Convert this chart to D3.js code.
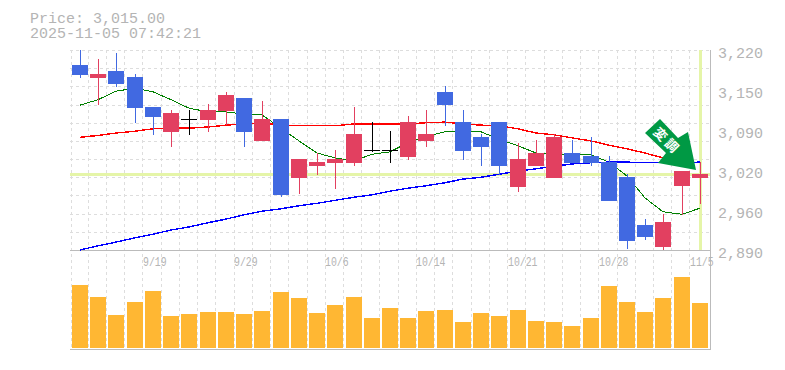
<!DOCTYPE html>
<html>
<head>
<meta charset="utf-8">
<script src="https://cdn.jsdelivr.net/npm/d3@7"></script>
<style>
    html, body { margin: 0; padding: 0; background: #fff; }
    svg { display: block; }
    text { font-family: "Liberation Mono", monospace; fill: #b4b4b4; }
</style>
</head>
<body>
<div id="chart"></div>
<script>
// daily candles, oldest first
const opens  = [3195,3174,3185,3175,3126,3085,3106,3105,3119,3141,3070,3106,3009,3029,3034,3034,3055,3055,3043,3070,3151,3101,3076,3101,2994,3029,3009,3050,3045,3035,3010,2931,2895,2996,3009];
const highs  = [3220,3205,3215,3180,3126,3121,3121,3131,3151,3141,3136,3106,3040,3050,3055,3126,3101,3086,3111,3121,3161,3121,3081,3101,3066,3071,3081,3071,3076,3045,3015,2941,2949,3020,3035];
const lows   = [3174,3129,3159,3100,3080,3060,3080,3085,3096,3060,3070,2977,2982,3014,2991,3029,3052,3034,3039,3060,3095,3039,3029,3014,2986,3029,3009,3034,3029,2971,2892,2906,2890,2948,2966];
const closes = [3179,3180,3164,3124,3109,3116,3106,3121,3146,3085,3106,2981,3040,3035,3040,3081,3055,3055,3101,3081,3129,3053,3060,3029,3040,3050,3076,3034,3034,2971,2905,2911,2936,3020,3015];
const volumes = [63,51,33,46,57,32,34,36,36,34,37,56,50,35,43,51,30,40,30,37,38,26,35,32,38,27,26,22,30,62,46,36,50,71,45];

// moving averages
const maShort = [3129,3138,3152,3157,3151,3138,3124,3118,3118,3114,3113,3091,3070,3050,3042,3037,3048,3052,3067,3077,3085,3085,3085,3073,3062,3050,3048,3048,3047,3035,3012,2976,2953,2949,2959];
const maMid   = [3076,3079,3083,3086,3090,3091,3091,3093,3096,3098,3100,3096,3095,3095,3095,3098,3098,3098,3098,3100,3101,3098,3096,3095,3090,3083,3080,3075,3070,3063,3057,3050,3042,3035,null];
const maLong  = [2890,2897,2903,2910,2916,2923,2928,2935,2941,2948,2954,2958,2963,2967,2972,2977,2981,2987,2992,2996,3001,3007,3010,3015,3020,3024,3028,3032,3034,3035,3035,3034,3034,3034,3035];

const dateLabels = ['9/19','9/29','10/6','10/14','10/21','10/28','11/5'];
const dateIndex = [4,9,14,19,24,29,34];
const priceTicks = [3220,3154,3088,3022,2956,2890];
const priceLabels = ['3,220','3,150','3,090','3,020','2,960','2,890'];

const lastPrice = 3015;
const titleLines = ['Price: 3,015.00','2025-11-05 07:42:21'];

const width = 785, height = 370;
const plotLeft = 70, plotRight = 710, plotTop = 50, priceBottom = 250, volBottom = 350;

const svg = d3.select('#chart').append('svg')
    .attr('width', width)
    .attr('height', height);

const x = d3.scaleBand()
    .domain(d3.range(opens.length))
    .range([71, 709.2]);

const y = d3.scaleLinear()
    .domain([2890, 3220])
    .range([priceBottom, plotTop]);

const yVol = d3.scaleLinear()
    .domain([0, 100])
    .range([348, 248]);

const cx = i => Math.round(x(i) + 9);

// grid
const grid = svg.append('g')
    .attr('stroke', '#ddd')
    .attr('stroke-dasharray', '3 3')
    .attr('shape-rendering', 'crispEdges');

grid.selectAll('.h')
    .data(d3.range(2890, 3221, 30))
    .join('line')
    .attr('class', 'h')
    .attr('x1', plotLeft).attr('x2', plotRight)
    .attr('y1', d => Math.round(y(d)) + 0.5)
    .attr('y2', d => Math.round(y(d)) + 0.5);

grid.selectAll('.v')
    .data(d3.range(opens.length))
    .join('line')
    .attr('class', 'v')
    .attr('x1', d => Math.floor(x(d)) + 0.5 - (d ? 1 : 0))
    .attr('x2', d => Math.floor(x(d)) + 0.5 - (d ? 1 : 0))
    .attr('y1', plotTop).attr('y2', volBottom);

// volume
svg.append('g').selectAll('rect')
    .data(volumes)
    .join('rect')
    .attr('x', (d, i) => Math.round(x(i) + 1))
    .attr('width', 16)
    .attr('y', d => Math.round(yVol(d)))
    .attr('height', d => Math.round(yVol(0) - yVol(d)))
    .attr('fill', '#ffb733');

// frame
const frame = svg.append('g').attr('stroke', '#bbb').attr('stroke-width', 1).attr('shape-rendering', 'crispEdges');
frame.append('line').attr('x1', plotLeft).attr('x2', plotRight).attr('y1', 250.5).attr('y2', 250.5);
frame.append('line').attr('x1', plotLeft).attr('x2', plotRight).attr('y1', 349.5).attr('y2', 349.5);
frame.append('line').attr('x1', 710.5).attr('x2', 710.5).attr('y1', plotTop).attr('y2', volBottom);

// last price cross
const mark = svg.append('g').attr('fill', '#e5f5a8');
mark.append('rect').attr('x', plotLeft).attr('width', plotRight - plotLeft).attr('y', Math.round(y(lastPrice)) - 1).attr('height', 3);
mark.append('rect').attr('x', cx(34) - 1).attr('width', 3).attr('y', plotTop).attr('height', 200);

// moving averages
const line = d3.line()
    .defined(d => d !== null)
    .x((d, i) => cx(i))
    .y(d => y(d));

[[maShort, '#008000', 1], [maMid, '#ff0000', 1.4], [maLong, '#0000ff', 1.4]].forEach(([vals, color, sw]) => {
    svg.append('path')
        .attr('d', line(vals))
        .attr('fill', 'none')
        .attr('stroke', color)
        .attr('stroke-width', sw)
        .attr('shape-rendering', 'crispEdges');
});

// candles
const candleColor = i => closes[i] > opens[i] ? '#e24060' : closes[i] < opens[i] ? '#4169e1' : '#000';
const candles = svg.append('g').selectAll('g')
    .data(opens)
    .join('g')
    .attr('fill', (d, i) => candleColor(i));

candles.append('rect')
    .attr('x', (d, i) => cx(i))
    .attr('width', 1)
    .attr('y', (d, i) => Math.round(y(highs[i])))
    .attr('height', (d, i) => Math.round(y(lows[i])) - Math.round(y(highs[i])));

candles.append('rect')
    .attr('x', (d, i) => Math.round(x(i) + 1))
    .attr('width', 16)
    .attr('y', (d, i) => Math.round(y(Math.max(opens[i], closes[i]))))
    .attr('height', (d, i) => Math.max(1, Math.round(y(Math.min(opens[i], closes[i]))) - Math.round(y(Math.max(opens[i], closes[i])))));

// axes
const yAxis = d3.axisRight(y)
    .tickValues(priceTicks)
    .tickFormat((d, i) => priceLabels[i])
    .tickSize(0);

const yG = svg.append('g').attr('transform', 'translate(718,3)').call(yAxis);
yG.select('.domain').remove();
yG.selectAll('text').attr('x', 0).attr('fill', null);
yG.attr('font-family', null).attr('font-size', 15);

const xAxis = d3.axisBottom(x)
    .tickValues(dateIndex)
    .tickFormat((d, i) => dateLabels[i])
    .tickSize(0);

const xG = svg.append('g').attr('transform', 'translate(0,257)').call(xAxis);
xG.select('.domain').remove();
xG.selectAll('.tick').attr('transform', d => `translate(${Math.round(x(d)) - 1},0)`);
xG.selectAll('text')
    .attr('x', 0).attr('y', 0).attr('dy', '0.71em')
    .attr('fill', null)
    .attr('textLength', (d, i) => dateLabels[i].length * 5.9)
    .attr('lengthAdjust', 'spacingAndGlyphs');
xG.attr('font-family', null).attr('font-size', 12).attr('text-anchor', 'start');

// title
svg.append('g').selectAll('text')
    .data(titleLines)
    .join('text')
    .attr('x', 30)
    .attr('y', (d, i) => 23 + i * 15)
    .style('font-size', '15px')
    .text(d => d);

// signal arrow
const arrow = svg.append('g');
arrow.append('path')
    .attr('d', d3.line()([[660,119],[645,133],[666,153],[658,163],[696,170],[688,132],[678,138]]) + 'Z')
    .attr('fill', '#009944');
arrow.append('text')
    .attr('transform', 'translate(667,141) rotate(45)')
    .attr('text-anchor', 'middle')
    .attr('dy', '0.35em')
    .style('font-size', '13px')
    .style('letter-spacing', '3px')
    .style('font-weight', 'bold')
    .style('font-family', '"Noto Sans CJK JP"')
    .style('fill', '#fff')
    .text('変調');
</script>
</body>
</html>
